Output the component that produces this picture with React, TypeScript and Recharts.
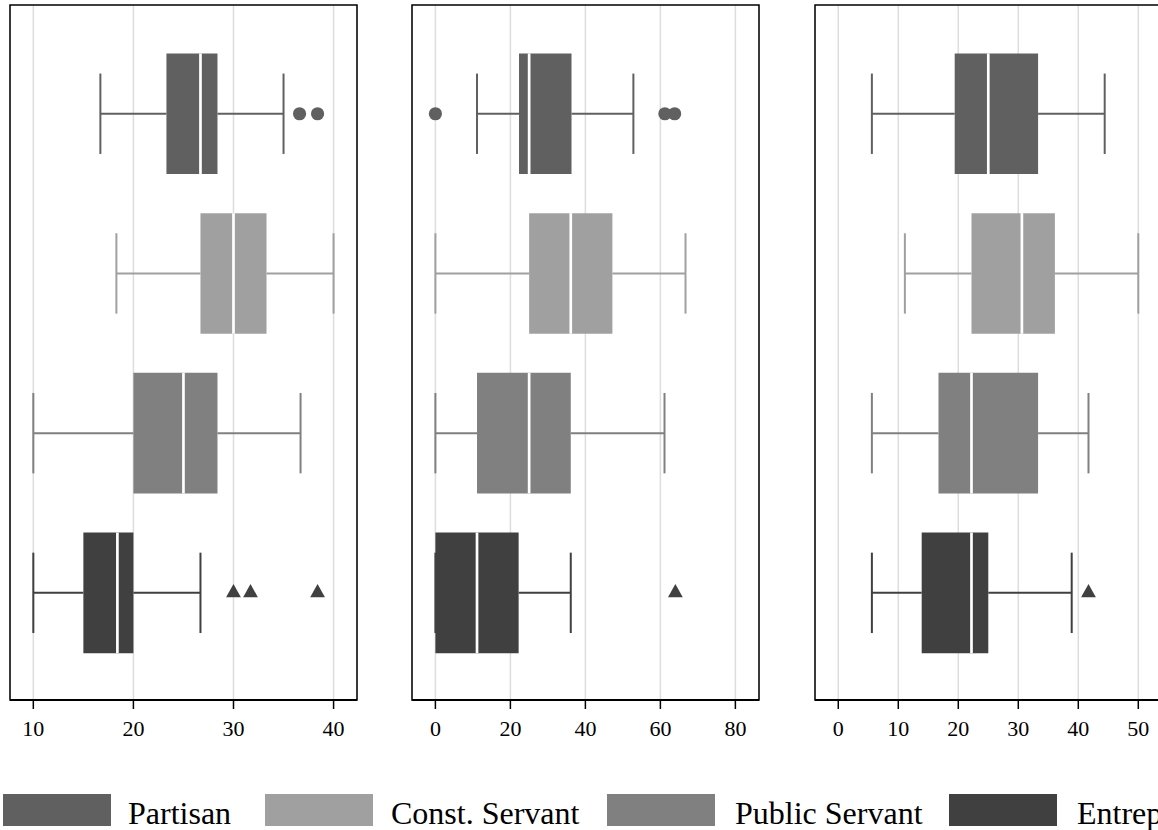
import {
  ComposedChart, XAxis, YAxis, CartesianGrid, ReferenceArea, ReferenceLine, Scatter,
} from 'recharts'

const groups = ['Partisan', 'Const. Servant', 'Public Servant', 'Entrepreneur']
const colors = ['#606060', '#a0a0a0', '#808080', '#404040']

// panel 1
const p1Ticks = [10, 20, 30, 40]
const p1Min = [16.7, 18.3, 10.0, 10.0]
const p1Q1 = [23.3, 26.7, 20.0, 15.0]
const p1Med = [26.7, 30.0, 25.0, 18.4]
const p1Q3 = [28.4, 33.3, 28.4, 20.0]
const p1Max = [35.0, 40.0, 36.7, 26.7]
const p1Circles = [36.6, 38.4] // Partisan outliers
const p1Triangles = [30.0, 31.7, 38.4] // Entrepreneur outliers

// panel 2
const p2Ticks = [0, 20, 40, 60, 80]
const p2Min = [11.1, 0, 0, 0]
const p2Q1 = [22.3, 25.0, 11.1, 0]
const p2Med = [25.0, 36.1, 25.0, 11.1]
const p2Q3 = [36.3, 47.2, 36.1, 22.2]
const p2Max = [52.8, 66.7, 61.1, 36.1]
const p2Circles = [0, 61.2, 63.8]
const p2Triangles = [64.0]

// panel 3
const p3Ticks = [0, 10, 20, 30, 40, 50]
const p3Min = [5.6, 11.1, 5.6, 5.6]
const p3Q1 = [19.4, 22.2, 16.7, 13.9]
const p3Med = [25.0, 30.6, 22.2, 22.2]
const p3Q3 = [33.3, 36.1, 33.3, 25.0]
const p3Max = [44.4, 50.0, 41.7, 38.9]
const p3Circles: number[] = []
const p3Triangles = [41.7]

const Y_DOMAIN = [0.319, 4.671]
const BOX_HALF = 0.3776
const CAP_HALF = 0.2517
const FONT = '"Liberation Serif", "Times New Roman", serif'

const Dot = (props: any) => {
  const { cx, cy } = props
  return <circle cx={cx} cy={cy} r={6.6} fill={colors[0]} />
}

const Triangle = (props: any) => {
  const { cx, cy } = props
  return <polygon points={`${cx - 7.4},${cy + 4.5} ${cx + 7.4},${cy + 4.5} ${cx},${cy - 8.9}`} fill={colors[3]} />
}

interface PanelProps {
  left: number
  domain: number[]
  ticks: number[]
  mins: number[]
  q1s: number[]
  meds: number[]
  q3s: number[]
  maxs: number[]
  circles: number[]
  triangles: number[]
}

function Panel({ left, domain, ticks, mins, q1s, meds, q3s, maxs, circles, triangles }: PanelProps) {
  const rows = groups.map((g, i) => ({
    g, r: i + 1, color: colors[i], min: mins[i], q1: q1s[i], med: meds[i], q3: q3s[i], max: maxs[i],
  }))
  const circleData = circles.map((v) => ({ v, r: 1 }))
  const triangleData = triangles.map((v) => ({ v, r: 4 }))

  return (
    <div style={{ position: 'absolute', left: left - 10, top: 0 }}>
      <ComposedChart width={367} height={760} margin={{ top: 5, right: 10, bottom: 0, left: 10 }}>
        <CartesianGrid horizontal={false} stroke="#dddddd" strokeWidth={1.5} />
        <XAxis
          type="number" dataKey="v" domain={domain} ticks={ticks} interval={0} allowDataOverflow
          height={60} tickSize={9} tickMargin={11}
          axisLine={{ stroke: '#000', strokeWidth: 2 }}
          tickLine={{ stroke: '#000', strokeWidth: 1.5 }}
          tick={{ fill: '#000', fontSize: 22, fontFamily: FONT }}
        />
        <YAxis type="number" dataKey="r" domain={Y_DOMAIN} reversed hide allowDataOverflow />
        <ReferenceArea
          x1={domain[0]} x2={domain[1]} y1={Y_DOMAIN[0]} y2={Y_DOMAIN[1]}
          fill="none" stroke="#000" strokeWidth={1.5} ifOverflow="visible"
        />
        {rows.map((d) => (
          <ReferenceLine key={`wl${d.g}`} segment={[{ x: d.min, y: d.r }, { x: d.q1, y: d.r }]}
            stroke={d.color} strokeWidth={2} ifOverflow="visible" />
        ))}
        {rows.map((d) => (
          <ReferenceLine key={`wh${d.g}`} segment={[{ x: d.q3, y: d.r }, { x: d.max, y: d.r }]}
            stroke={d.color} strokeWidth={2} ifOverflow="visible" />
        ))}
        {rows.map((d) => (
          <ReferenceLine key={`cl${d.g}`} segment={[{ x: d.min, y: d.r - CAP_HALF }, { x: d.min, y: d.r + CAP_HALF }]}
            stroke={d.color} strokeWidth={2} ifOverflow="visible" />
        ))}
        {rows.map((d) => (
          <ReferenceLine key={`ch${d.g}`} segment={[{ x: d.max, y: d.r - CAP_HALF }, { x: d.max, y: d.r + CAP_HALF }]}
            stroke={d.color} strokeWidth={2} ifOverflow="visible" />
        ))}
        {rows.map((d) => (
          <ReferenceArea key={`b${d.g}`} x1={d.q1} x2={d.q3} y1={d.r - BOX_HALF} y2={d.r + BOX_HALF}
            fill={d.color} fillOpacity={1} stroke="none" ifOverflow="visible" />
        ))}
        {rows.map((d) => (
          <ReferenceLine key={`m${d.g}`} segment={[{ x: d.med, y: d.r - BOX_HALF }, { x: d.med, y: d.r + BOX_HALF }]}
            stroke="#ffffff" strokeWidth={2.7} ifOverflow="visible" />
        ))}
        <Scatter data={circleData} dataKey="v" shape={Dot} isAnimationActive={false} />
        <Scatter data={triangleData} dataKey="v" shape={Triangle} isAnimationActive={false} />
      </ComposedChart>
    </div>
  )
}

const legendX = [
  { box: 3, text: 128 },
  { box: 265, text: 391 },
  { box: 607, text: 735 },
  { box: 949, text: 1077 },
]

export default function App() {
  return (
    <div style={{
      position: 'absolute', left: 0, top: 0, width: 1158, height: 830,
      overflow: 'hidden', background: '#fff', fontFamily: FONT,
    }}>
      <Panel left={10} domain={[7.67, 42.34]} ticks={p1Ticks}
        mins={p1Min} q1s={p1Q1} meds={p1Med} q3s={p1Q3} maxs={p1Max}
        circles={p1Circles} triangles={p1Triangles} />
      <Panel left={412} domain={[-6.24, 86.3]} ticks={p2Ticks}
        mins={p2Min} q1s={p2Q1} meds={p2Med} q3s={p2Q3} maxs={p2Max}
        circles={p2Circles} triangles={p2Triangles} />
      <Panel left={815} domain={[-3.88, 53.95]} ticks={p3Ticks}
        mins={p3Min} q1s={p3Q1} meds={p3Med} q3s={p3Q3} maxs={p3Max}
        circles={p3Circles} triangles={p3Triangles} />
      {groups.map((g, i) => (
        <div key={g}>
          <div style={{
            position: 'absolute', left: legendX[i].box, top: 794, width: 108, height: 32,
            background: colors[i],
          }} />
          <span style={{
            position: 'absolute', left: legendX[i].text, top: 796.5, fontSize: 32,
            lineHeight: '32px', whiteSpace: 'nowrap', color: '#000',
          }}>{g}</span>
        </div>
      ))}
    </div>
  )
}
